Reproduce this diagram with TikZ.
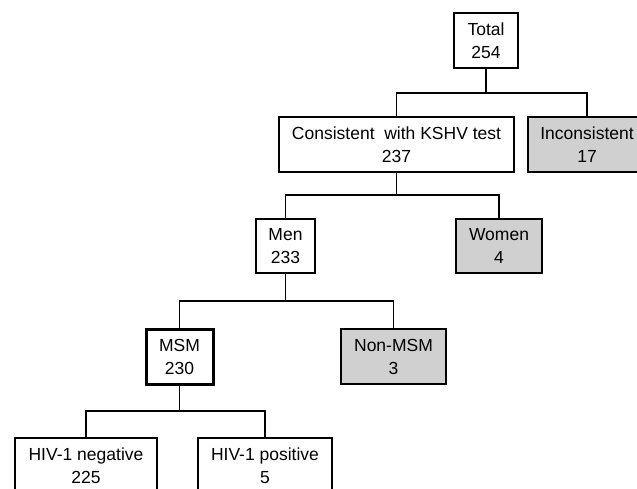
\documentclass[tikz,border=0pt]{standalone}
\usepackage{fontspec}
\setmainfont{Liberation Sans}
\definecolor{boxgray}{RGB}{208,208,208}
\begin{document}
\begin{tikzpicture}[x=1pt,y=-1pt,
  box/.style={draw=black,line width=1.8pt,fill=white,inner sep=0pt,align=center,
    font=\fontsize{17.5}{23}\selectfont},
  graybox/.style={box,fill=boxgray},
  thickbox/.style={box,line width=3pt},
  conn/.style={line width=1.8pt,line cap=rect}]
\useasboundingbox (0,0) rectangle (637,489);
\clip (0,0) rectangle (637,489);
\fill[white] (0,0) rectangle (637,489);
\node[box,minimum width=64pt,minimum height=55pt] (total) at (486,40.5) {Total\\254};
\node[box,minimum width=235pt,minimum height=55pt] (cons) at (396.5,144.5) {Consistent\ \ with KSHV test\\237};
\node[graybox,minimum width=118pt,minimum height=55pt] (inc) at (587,144.5) {Inconsistent\\17};
\node[box,minimum width=59pt,minimum height=54pt] (men) at (285.5,246) {Men\\233};
\node[graybox,minimum width=86pt,minimum height=54pt] (women) at (499,246) {Women\\4};
\node[thickbox,minimum width=67pt,minimum height=55pt] (msm) at (179.5,356.5) {MSM\\230};
\node[graybox,minimum width=105pt,minimum height=55pt] (nonmsm) at (393.5,356.5) {Non-MSM\\3};
\node[box,minimum width=142pt,minimum height=55pt] (neg) at (86,465.5) {HIV-1 negative\\225};
\node[box,minimum width=134pt,minimum height=55pt] (pos) at (265,465.5) {HIV-1 positive\\5};
\coordinate (j1) at (486,93);
\coordinate (j2) at (396.5,195);
\coordinate (j3) at (285.5,301);
\coordinate (j4) at (179.5,411);
\draw[conn] (total.south) -- (j1);
\draw[conn] (cons.north) |- (j1) -| (inc.north);
\draw[conn] (cons.south) -- (j2);
\draw[conn] (men.north) |- (j2) -| (women.north);
\draw[conn] (men.south) -- (j3);
\draw[conn] (msm.north) |- (j3) -| (nonmsm.north);
\draw[conn] (msm.south) -- (j4);
\draw[conn] (neg.north) |- (j4) -| (pos.north);
\end{tikzpicture}
\end{document}
